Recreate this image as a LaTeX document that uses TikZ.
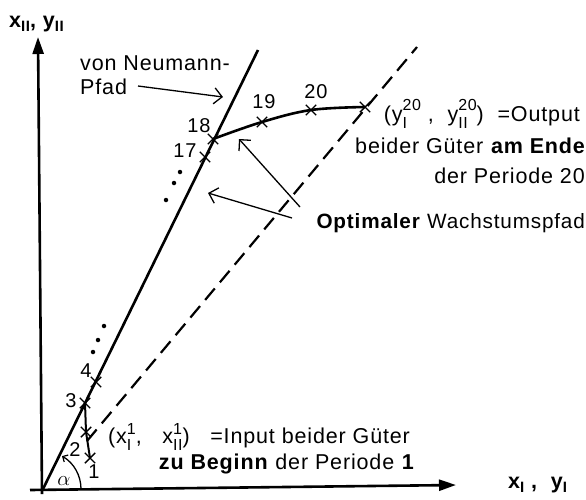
\documentclass[tikz,border=0pt]{standalone}
\usepackage{fontspec}
\setmainfont{Liberation Sans}[LetterSpace=4]
\usetikzlibrary{arrows.meta,shapes.misc}
\newsavebox\supboxA
\newsavebox\subboxA
\newcommand{\supsub}[4]{%
 \sbox\supboxA{\fontsize{16}{16}\selectfont #3}%
 \sbox\subboxA{\fontsize{16}{16}\selectfont #4}%
 \raisebox{#1}{\usebox\supboxA}\kern-\wd\supboxA
 \raisebox{-#2}{\usebox\subboxA}%
 \ifdim\wd\supboxA>\wd\subboxA\kern\dimexpr\wd\supboxA-\wd\subboxA\relax\fi}
\newcommand{\lsub}[1]{\raisebox{-4pt}{\fontsize{15}{15}\selectfont #1}}
\tikzset{
 axisline/.style={line width=2.6pt,-{Triangle[length=17pt,width=11pt]}},
 vnline/.style={line width=2.6pt},
 optcurve/.style={line width=2.6pt},
 rayline/.style={line width=2.2pt,dash pattern=on 15pt off 8pt},
 pointer/.style={line width=1.3pt,-{Straight Barb[length=8pt,width=16pt,line width=1.3pt]}},
 txt/.style={font=\fontsize{21.5}{30}\selectfont,inner sep=0pt},
 num/.style={font=\fontsize{20}{20}\selectfont,inner sep=0pt},
 xmk/.style={cross out,draw,line width=1.4pt,minimum size=9pt,inner sep=0pt},
 dotmk/.style={fill,circle,inner sep=0pt,minimum size=4.5pt}
}
\begin{document}
\begin{tikzpicture}[x=1pt,y=-1pt]
\useasboundingbox (0,0) rectangle (586,499);
% coordinates
\coordinate (O) at (43,489);
\coordinate (VNtop) at (258,50);
\coordinate (P1) at (90,458);
\coordinate (P2) at (86,432);
\coordinate (P3) at (85,403);
\coordinate (P4) at (96,382);
\coordinate (P17) at (205,157);
\coordinate (P18) at (213,139);
\coordinate (P19) at (262,122);
\coordinate (P20) at (311,110);
\coordinate (PE) at (365,107);
\coordinate (Dstart) at (87,441);
\coordinate (Dtop) at (417,47);
\coordinate (YAb) at (42,494);
\coordinate (YAt) at (38,37);
\coordinate (XAb) at (30,490);
\coordinate (XAt) at (456,485);
\coordinate (PfadTail) at (138,86);
\coordinate (PfadHead) at (223,97);
\coordinate (OptTailA) at (300,207);
\coordinate (OptHeadA) at (239,139);
\coordinate (OptTailB) at (292,218);
\coordinate (OptHeadB) at (208,193);
\coordinate (ArcStart) at (81,489);
% axes
\draw[axisline] (YAb) -- (YAt);
\draw[axisline] (XAb) -- (XAt);
% von Neumann ray
\draw[vnline] (O) -- (VNtop);
% dashed ray
\draw[rayline] (Dstart) -- (Dtop);
% first periods
\draw[line width=2pt] (P3) -- (P2) -- (P1);
% optimal path
\draw[optcurve] plot[smooth,tension=0.6] coordinates {(P18) (P19) (P20) (PE)};
% marks
\foreach \p in {P1,P2,P3,P4,P17,P18,P19,P20,PE}
  \node[xmk] (m\p) at (\p) {};
% dots
\foreach \q/\xx/\yy in {a/93/352,b/98/340,c/104/326,d/166/200,e/174/183,f/180/172}
  \node[dotmk] (d\q) at (\xx,\yy) {};
% alpha arc
\draw[line width=1.3pt,-{Straight Barb[length=4pt,width=8pt,line width=1.2pt]}] (ArcStart) arc[start angle=0,end angle=60,radius=38pt];
\node[num] (alpha) at (64,481) {$\alpha$};
% pointers
\draw[pointer] (PfadTail) -- (PfadHead);
\draw[pointer] (OptTailA) -- (OptHeadA);
\draw[pointer] (OptTailB) -- (OptHeadB);
% number labels
\node[num] (n1) at (94,472) {1};
\node[num] (n2) at (75,450) {2};
\node[num] (n3) at (71,401) {3};
\node[num] (n4) at (86,371) {4};
\node[num] (n17) at (185,151) {17};
\node[num] (n18) at (199,126) {18};
\node[num] (n19) at (264,102) {19};
\node[num] (n20) at (316,92) {20};
% texts
\node[txt,anchor=base west] (ylab) at (9,27) {\bfseries x\lsub{II}, y\lsub{II}};
\node[txt,anchor=base west] (xlab) at (508,488) {\bfseries x\lsub{I} ,\ \ y\lsub{I}};
\node[txt,anchor=base west] (vn1) at (80,70) {von Neumann-};
\node[txt,anchor=base west] (vn2) at (80,94) {Pfad};
\node[txt,anchor=base east] (out1) at (580,121) {(y\supsub{11pt}{7pt}{20}{I}\ ,\ \ y\supsub{11pt}{7pt}{20}{II})\ \ =Output};
\node[txt,anchor=base east] (out2) at (586,153) {beider Güter \textbf{am Ende}};
\node[txt,anchor=base east] (out3) at (585,183) {der Periode 20};
\node[txt,anchor=base east,font=\fontsize{20.7}{30}\selectfont] (opt) at (585,228) {\textbf{Optimaler} Wachstumspfad};
\node[txt,anchor=base west] (in1) at (108,443) {(x\supsub{8.5pt}{7pt}{1}{I},\ \ \ x\supsub{8.5pt}{7pt}{1}{II})\ \ \ =Input beider Güter};
\node[txt,anchor=base east] (in2) at (415,469) {\textbf{zu Beginn} der Periode \textbf{1}};
\end{tikzpicture}
\end{document}
